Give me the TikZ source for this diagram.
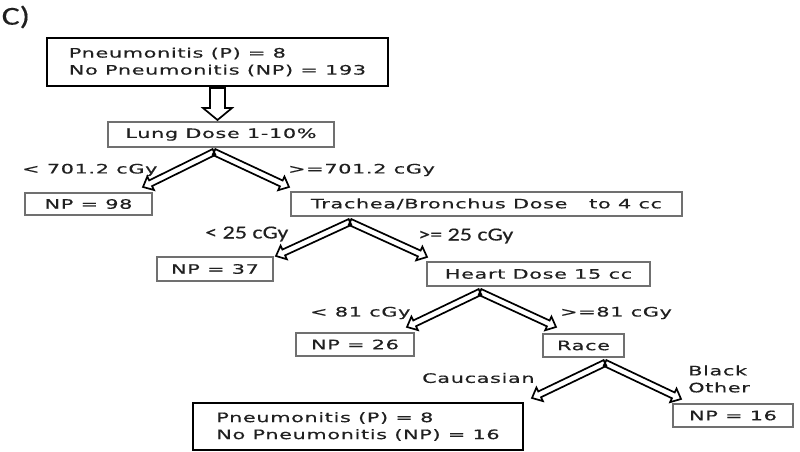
\documentclass[tikz,border=0pt]{standalone}
\usepackage{fontspec}
\usetikzlibrary{calc}
\newfontfamily\vf[FakeStretch=1.6,LetterSpace=5,FakeBold=0.4]{DejaVu Sans}
\newfontfamily\cf[FakeStretch=1.3,FakeBold=0.3]{Carlito}
\definecolor{ink}{HTML}{202020}
\definecolor{edge}{HTML}{707070}
\newcommand\harrow[5]{%
  \coordinate (hC) at ($(#2)!#5pt!(#1)$);
  \draw[arrowline] ($(#1)!#3pt!90:(#2)$) -- ($(hC)!#3pt!-90:(#1)$) -- ($(hC)!#4pt!-90:(#1)$) -- (#2)
    -- ($(hC)!#4pt!90:(#1)$) -- ($(hC)!#3pt!90:(#1)$) -- ($(#1)!#3pt!-90:(#2)$) -- cycle;}
\tikzset{
  vtext/.style={font=\vf\fontsize{13}{17}\selectfont, text=ink, inner sep=0pt},
  ctext/.style={font=\cf\fontsize{18.5}{22}\selectfont, text=ink, inner sep=0pt},
  thinbox/.style={vtext, draw=edge, line width=1.4pt, minimum height=24pt},
  thickbox/.style={vtext, draw=black, line width=2.4pt, align=left},
  arrowline/.style={draw=black, line width=1.7pt, line join=miter},
}
\begin{document}
\begin{tikzpicture}[x=1pt,y=-1pt]
\useasboundingbox[fill=white] (0,0) rectangle (800,452);
\node[font=\cf\fontsize{26}{30}\selectfont, text=ink, inner sep=0pt, anchor=west] (lbl) at (1.5,17) {C)};
% boxes
\node[thickbox, minimum width=341pt, minimum height=48pt] (top) at (217.5,62) {Pneumonitis (P) = 8\\No Pneumonitis (NP) = 193};
\node[thinbox, minimum width=226pt, minimum height=25pt] (lung) at (221,134.5) {Lung Dose 1-10\%};
\node[thinbox, minimum width=127pt, minimum height=22pt] (np98) at (88.5,204) {NP = 98};
\node[thinbox, minimum width=391pt] (trach) at (486.5,204) {Trachea/Bronchus Dose\ \ \ to 4 cc};
\node[thinbox, minimum width=116pt] (np37) at (215,269) {NP = 37};
\node[thinbox, minimum width=223pt] (heart) at (538.5,274) {Heart Dose 15 cc};
\node[thinbox, minimum width=118pt, minimum height=23pt] (np26) at (355,344.5) {NP = 26};
\node[thinbox, minimum width=81pt, minimum height=23pt] (race) at (583.5,345.5) {Race};
\node[thickbox, minimum width=330pt, minimum height=47pt] (final) at (358,426.5) {Pneumonitis (P) = 8\\No Pneumonitis (NP) = 16};
\node[thinbox, minimum width=120pt, minimum height=23pt] (np16) at (733,415.5) {NP = 16};
% labels
\node[vtext, anchor=west] (l1) at (22,170) {< 701.2 cGy};
\node[vtext, anchor=west] (r1) at (288,170) {>=701.2 cGy};
\node[ctext, anchor=west] (l2) at (205,234) {< 25 cGy};
\node[ctext, anchor=west] (r2) at (418,236) {>= 25 cGy};
\node[vtext, anchor=west] (l3) at (310,313) {< 81 cGy};
\node[vtext, anchor=west] (r3) at (560,313) {>=81 cGy};
\node[vtext, anchor=west] (l4) at (422,378) {Caucasian};
\node[vtext, anchor=west, align=left] (r4) at (688,379) {Black\\Other};
% connector points
\coordinate (d0) at (217.5,88);
\coordinate (d1) at (217.5,120);
\coordinate (a1) at (214,152);
\coordinate (a1l) at (143,187);
\coordinate (a1r) at (289,187);
\coordinate (a2) at (350,222);
\coordinate (a2l) at (276,256);
\coordinate (a2r) at (427,257);
\coordinate (a3) at (480,292);
\coordinate (a3l) at (407,327);
\coordinate (a3r) at (556,327);
\coordinate (a4) at (605,363);
\coordinate (a4l) at (532,398);
\coordinate (a4r) at (681,399);
% arrows
\harrow{d0}{d1}{7.5}{14.5}{12}
\harrow{a1}{a1l}{3.2}{7.5}{8.5}
\harrow{a1}{a1r}{3.2}{7.5}{8.5}
\harrow{a2}{a2l}{3.2}{7.5}{8.5}
\harrow{a2}{a2r}{3.2}{7.5}{8.5}
\harrow{a3}{a3l}{3.2}{7.5}{8.5}
\harrow{a3}{a3r}{3.2}{7.5}{8.5}
\harrow{a4}{a4l}{3.2}{7.5}{8.5}
\harrow{a4}{a4r}{3.2}{7.5}{8.5}
\end{tikzpicture}
\end{document}
